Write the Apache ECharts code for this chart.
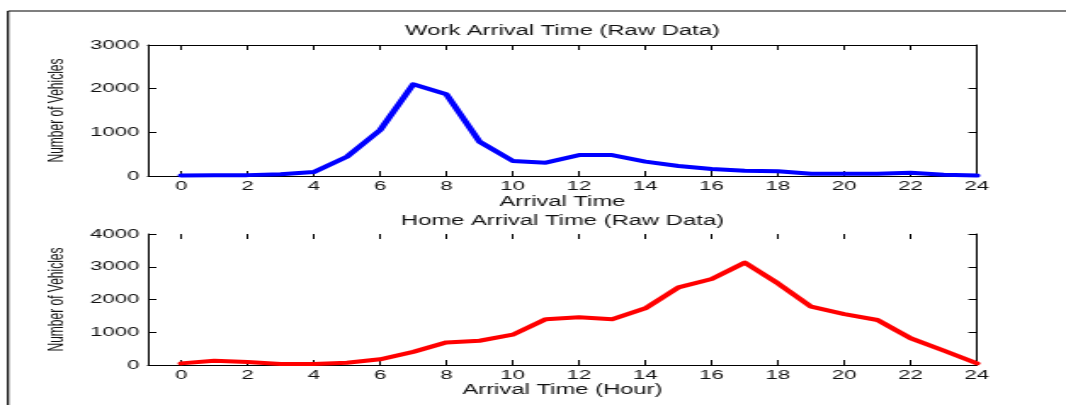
<!DOCTYPE html>
<html>
<head>
<meta charset="utf-8">
<script src="https://cdn.jsdelivr.net/npm/echarts@6/dist/echarts.min.js"></script>
<style>
  html, body { margin: 0; padding: 0; background: #fff; overflow: hidden; }
  #wrap { width: 1066px; height: 405px; overflow: hidden; }
  /* The figure is laid out narrow and stretched sideways, like the exported plot */
  #chart { width: 627px; height: 405px; transform: scaleX(1.7002); transform-origin: 0 0; }
</style>
</head>
<body>
<div id="wrap"><div id="chart"></div></div>
<script>
// Hour of day (0-24)
const hours = [0, 1, 2, 3, 4, 5, 6, 7, 8, 9, 10, 11, 12, 13, 14, 15, 16, 17, 18, 19, 20, 21, 22, 23, 24];

// Vehicles arriving at work, per hour
const workArrivals = [10, 15, 20, 40, 90, 440, 1050, 2100, 1870, 785, 345, 305, 480, 480, 330, 230, 160, 120, 110, 50, 50, 50, 75, 30, 10];

// Vehicles arriving home, per hour
const homeArrivals = [50, 130, 90, 30, 30, 70, 175, 400, 690, 740, 925, 1400, 1455, 1395, 1730, 2370, 2625, 3125, 2490, 1780, 1555, 1375, 815, 440, 50];

// Tick labels on the hour axis
const hourTicks = [0, 2, 4, 6, 8, 10, 12, 14, 16, 18, 20, 22, 24];

const panelTitles = ['Work Arrival Time (Raw Data)', 'Home Arrival Time (Raw Data)'];
const xAxisNames = ['Arrival Time', 'Arrival Time (Hour)'];
const yAxisName = 'Number of Vehicles';
const yMax = [3000, 4000];

const FONT = '"Liberation Sans", Arial, Helvetica, sans-serif';
const TEXT = '#111';
const AXIS = '#000';

const panelTop = [45, 234];
const panelHeight = 131;
const plotLeft = 87;
const plotRight = 52.4;
const titleTop = [24, 214];
const xNameGap = [19, 17];
const titleCenterX = 330.8;

const plain = (v) => String(v);

const grids = [];
const xAxes = [];
const yAxes = [];
const titles = [];

for (let i = 0; i < 2; i++) {
  grids.push({ left: plotLeft, right: plotRight, top: panelTop[i], height: panelHeight, outerBoundsMode: 'none' });

  titles.push({
    text: panelTitles[i], left: titleCenterX, top: titleTop[i], textAlign: 'center', padding: 0,
    textStyle: { fontSize: 14, fontWeight: 'normal', color: TEXT, fontFamily: FONT }
  });

  // lower hour axis with labels
  xAxes.push({
    gridIndex: i, type: 'value', position: 'bottom', min: -1, max: 24,
    axisLine: { show: true, onZero: false, lineStyle: { color: AXIS, width: 1 } },
    axisTick: { show: true, inside: true, length: 5, customValues: hourTicks, lineStyle: { color: AXIS } },
    axisLabel: { customValues: hourTicks, formatter: plain, fontSize: 13, margin: 4, color: TEXT, fontFamily: FONT },
    splitLine: { show: false },
    name: xAxisNames[i], nameLocation: 'middle', nameGap: xNameGap[i],
    nameTextStyle: { fontSize: 14, color: TEXT, fontFamily: FONT }
  });
  // upper hour axis: ticks only (frame line on the first panel)
  xAxes.push({
    gridIndex: i, type: 'value', position: 'top', min: -1, max: 24,
    axisLine: { show: i === 0, onZero: false, lineStyle: { color: AXIS, width: 1 } },
    axisTick: { show: true, inside: true, length: 5, customValues: hourTicks, lineStyle: { color: AXIS } },
    axisLabel: { show: false },
    splitLine: { show: false }
  });

  yAxes.push({
    gridIndex: i, type: 'value', position: 'left', min: 0, max: yMax[i], interval: 1000,
    axisLine: { show: true, onZero: false, lineStyle: { color: AXIS, width: 1 } },
    axisTick: { show: true, inside: true, length: 5, lineStyle: { color: AXIS } },
    axisLabel: { formatter: plain, fontSize: 13, margin: 5, color: TEXT, fontFamily: FONT },
    splitLine: { show: false },
    name: yAxisName, nameLocation: 'middle', nameGap: 47,
    nameTextStyle: { fontSize: 12, color: TEXT, fontFamily: FONT }
  });
  yAxes.push({
    gridIndex: i, type: 'value', position: 'right', min: 0, max: yMax[i], interval: 1000,
    axisLine: { show: true, onZero: false, lineStyle: { color: AXIS, width: 1 } },
    axisTick: { show: true, inside: true, length: 5, lineStyle: { color: AXIS } },
    axisLabel: { show: false },
    splitLine: { show: false }
  });
}

const pairs = (ys) => hours.map((h, k) => [h, ys[k]]);

const option = {
  animation: false,
  backgroundColor: '#fff',
  title: titles,
  grid: grids,
  xAxis: xAxes,
  yAxis: yAxes,
  graphic: [
    // outer figure frame (left and top edges)
    { type: 'line', shape: { x1: 4.7, y1: 11, x2: 4.7, y2: 405 }, style: { stroke: '#000', lineWidth: 1.2 }, silent: true },
    { type: 'line', shape: { x1: 4.7, y1: 11, x2: 627, y2: 11 }, style: { stroke: '#000', lineWidth: 1.2 }, silent: true }
  ],
  series: [
    {
      type: 'line', xAxisIndex: 0, yAxisIndex: 0, data: pairs(workArrivals),
      showSymbol: false, smooth: false, clip: false,
      lineStyle: { color: '#0000ff', width: 4, join: 'round', cap: 'round' }
    },
    {
      type: 'line', xAxisIndex: 2, yAxisIndex: 2, data: pairs(homeArrivals),
      showSymbol: false, smooth: false, clip: false,
      lineStyle: { color: '#ff0000', width: 4, join: 'round', cap: 'round' }
    }
  ]
};

const chart = echarts.init(document.getElementById('chart'));
chart.setOption(option);
</script>
</body>
</html>
